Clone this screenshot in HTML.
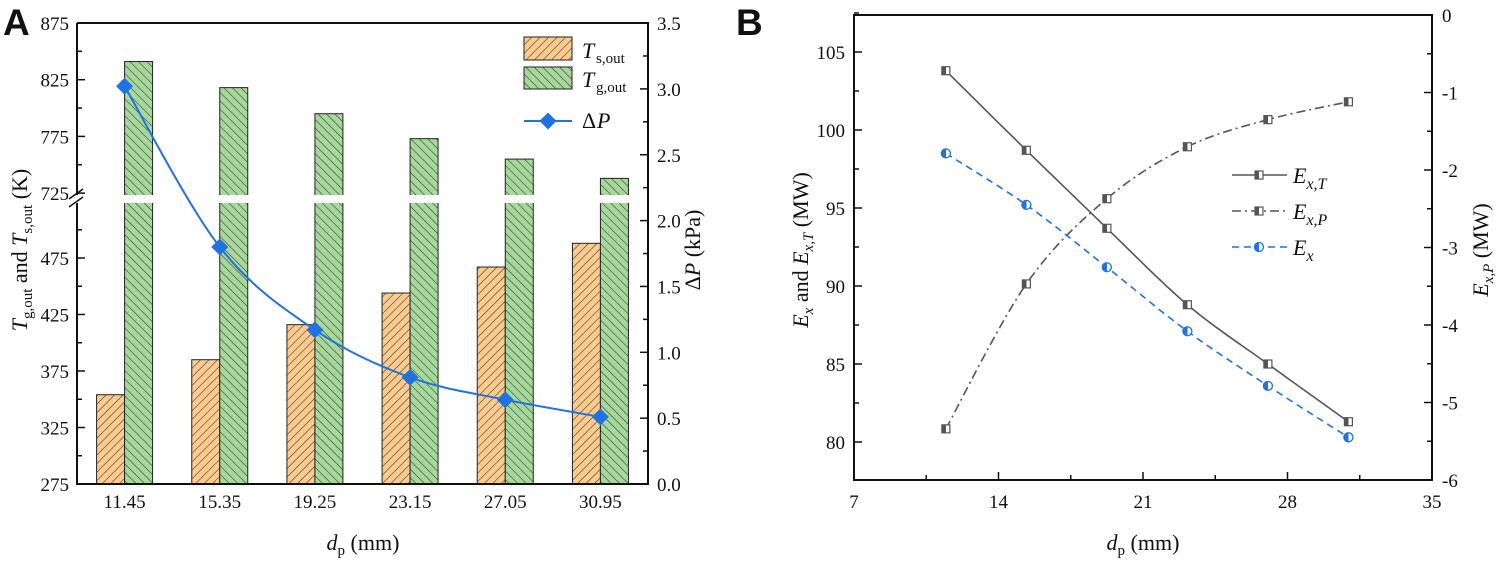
<!DOCTYPE html>
<html><head><meta charset="utf-8"><style>
body{margin:0;background:#fff;}
svg text{font-family:"Liberation Serif",serif;fill:#111;}
svg text.plab{font-family:"Liberation Sans",sans-serif;font-weight:bold;}
</style></head><body>
<svg id="svg" width="1499" height="560" viewBox="0 0 1499 560" xmlns="http://www.w3.org/2000/svg">
<defs>
<pattern id="hatchO" patternUnits="userSpaceOnUse" width="6" height="6" patternTransform="rotate(45)">
<rect width="6" height="6" fill="#fbcb8e"/><line x1="0" y1="0" x2="0" y2="6" stroke="#333" stroke-width="1.1"/></pattern>
<pattern id="hatchG" patternUnits="userSpaceOnUse" width="6" height="6" patternTransform="rotate(-45)">
<rect width="6" height="6" fill="#a7d89b"/><line x1="0" y1="0" x2="0" y2="6" stroke="#333" stroke-width="1.1"/></pattern>
<linearGradient id="halfGray" x1="0" x2="1"><stop offset="0.5" stop-color="#555"/><stop offset="0.5" stop-color="#fff"/></linearGradient>
<linearGradient id="halfBlue" x1="0" x2="1"><stop offset="0.5" stop-color="#1f72e0"/><stop offset="0.5" stop-color="#fff"/></linearGradient>
</defs>
<g id="gA"></g>
<g id="gB"></g>
</svg>
<script>
// Panel A data
const catsA = ["11.45","15.35","19.25","23.15","27.05","30.95"];
const tsOut = [354, 385, 416, 444, 467, 488];
const tgOut = [841, 818, 795, 773, 755, 738];
const dP = [3.02, 1.80, 1.17, 0.81, 0.64, 0.51];
const leftTicksUpper = [875, 825, 775, 725];
const leftTicksLower = [475, 425, 375, 325, 275];
const rightTicksA = ["0.0","0.5","1.0","1.5","2.0","2.5","3.0","3.5"];
// Panel B data
const xB = [11.45, 15.35, 19.25, 23.15, 27.05, 30.95];
const exT = [103.8, 98.7, 93.7, 88.8, 85.0, 81.3];
const exP = [-5.34, -3.47, -2.37, -1.70, -1.35, -1.12];
const ex = [98.5, 95.2, 91.2, 87.1, 83.6, 80.3];
const xTicksB = [7, 14, 21, 28, 35];
const leftTicksB = [80, 85, 90, 95, 100, 105];
const rightTicksB = [0, -1, -2, -3, -4, -5, -6];

const NS = "http://www.w3.org/2000/svg";
function mk(parent, tag, attrs, text){
  const e = document.createElementNS(NS, tag);
  for (const k in attrs) e.setAttribute(k, attrs[k]);
  if (text !== undefined) e.textContent = text;
  parent.appendChild(e); return e;
}
function spline(pts){
  let d = "M"+pts[0][0]+","+pts[0][1];
  for (let i=0;i<pts.length-1;i++){
    const p0=pts[Math.max(0,i-1)], p1=pts[i], p2=pts[i+1], p3=pts[Math.min(pts.length-1,i+2)];
    const c1=[p1[0]+(p2[0]-p0[0])/6, p1[1]+(p2[1]-p0[1])/6];
    const c2=[p2[0]-(p3[0]-p1[0])/6, p2[1]-(p3[1]-p1[1])/6];
    d += " C"+c1[0]+","+c1[1]+" "+c2[0]+","+c2[1]+" "+p2[0]+","+p2[1];
  }
  return d;
}
// ---------- Panel A ----------
const A = document.getElementById("gA");
const axL=77, axR=648, axT=23, axB=484;
const yUp = v => 23 + (875 - v) * 56.7/50;
const yLo = v => 484 - (v - 275) * 56.5/50;
const yT = v => v >= 725 ? yUp(v) : yLo(v);
const yDP = v => 484 - v * 131.7;
const band = (axR-axL)/catsA.length;
const xc = i => axL + band*(i+0.5);
const bw = 28;
mk(A,"text",{x:3,y:35,"class":"plab","font-size":"37",},"A");
catsA.forEach((c,i)=>{
  const x = xc(i);
  const o = mk(A,"rect",{x:x-bw,y:yT(tsOut[i]),width:bw,height:axB-yT(tsOut[i]),fill:"url(#hatchO)",stroke:"#222","stroke-width":1});
  
  
  const g = mk(A,"rect",{x:x,y:yT(tgOut[i]),width:bw,height:axB-yT(tgOut[i]),fill:"url(#hatchG)",stroke:"#222","stroke-width":1});
  
  
  const t = mk(A,"text",{x:x,y:508,"font-size":"19","text-anchor":"middle"},c);
  
  
});
mk(A,"rect",{x:axL+1,y:195,width:axR-axL-2,height:8,fill:"#fff"});
mk(A,"path",{d:`M${axL},${axT}H${axR}V${axB}H${axL}V203 M${axL},195V${axT}`,fill:"none",stroke:"#111","stroke-width":2});
mk(A,"path",{d:`M${axL-8},199 L${axL+6},189 M${axL-8},207 L${axL+6},197`,stroke:"#111","stroke-width":1.5});
leftTicksUpper.forEach(v=>{
  mk(A,"line",{x1:axL,x2:axL+8,y1:yUp(v),y2:yUp(v),stroke:"#111","stroke-width":1.5});
  if(v>725) mk(A,"line",{x1:axL,x2:axL+5,y1:yUp(v-25),y2:yUp(v-25),stroke:"#111","stroke-width":1.5});
  const t=mk(A,"text",{x:axL-8,y:yUp(v)+7,"font-size":"19","text-anchor":"end"},v);
  
  
});
leftTicksLower.forEach(v=>{
  mk(A,"line",{x1:axL,x2:axL+8,y1:yLo(v),y2:yLo(v),stroke:"#111","stroke-width":1.5});
  mk(A,"line",{x1:axL,x2:axL+5,y1:yLo(v+25),y2:yLo(v+25),stroke:"#111","stroke-width":1.5});
  const t=mk(A,"text",{x:axL-8,y:yLo(v)+7,"font-size":"19","text-anchor":"end"},v);
  
  
});
rightTicksA.forEach(s=>{
  const v=parseFloat(s);
  mk(A,"line",{x1:axR,x2:axR-8,y1:yDP(v),y2:yDP(v),stroke:"#111","stroke-width":1.5});
  if(v<3.5) mk(A,"line",{x1:axR,x2:axR-5,y1:yDP(v+0.25),y2:yDP(v+0.25),stroke:"#111","stroke-width":1.5});
  const t=mk(A,"text",{x:axR+9,y:yDP(v)+7,"font-size":"19"},s);
  
  
});
const ptsA = dP.map((v,i)=>[xc(i), yDP(v)]);
const lnA = mk(A,"path",{d:spline(ptsA),fill:"none",stroke:"#1f72e0","stroke-width":2});


ptsA.forEach(p=>{
  const m=mk(A,"rect",{x:p[0]-6,y:p[1]-6,width:12,height:12,fill:"#1f72e0",transform:`rotate(45 ${p[0]} ${p[1]})`});
  
  
});
const lgA = mk(A,"g",{});


mk(lgA,"rect",{x:524,y:37,width:48,height:23,fill:"url(#hatchO)",stroke:"#222"});
mk(lgA,"text",{x:582,y:58,"font-size":"22","font-style":"italic"},"T");
mk(lgA,"text",{x:596,y:63,"font-size":"15"},"s,out");
mk(lgA,"rect",{x:524,y:67,width:48,height:22,fill:"url(#hatchG)",stroke:"#222"});
mk(lgA,"text",{x:582,y:87,"font-size":"22","font-style":"italic"},"T");
mk(lgA,"text",{x:596,y:92,"font-size":"15"},"g,out");
mk(lgA,"line",{x1:524,x2:572,y1:121,y2:121,stroke:"#1f72e0","stroke-width":2});
mk(lgA,"rect",{x:542,y:115,width:12,height:12,fill:"#1f72e0",transform:"rotate(45 548 121)"});
mk(lgA,"text",{x:582,y:128,"font-size":"22"},"Δ");
mk(lgA,"text",{x:597,y:128,"font-size":"22","font-style":"italic"},"P");
const xtA = mk(A,"text",{x:363,y:550,"font-size":"22","text-anchor":"middle"});


xtA.innerHTML='<tspan font-style="italic">d</tspan><tspan font-size="15" dy="5">p</tspan><tspan dy="-5"> (mm)</tspan>';
const ytA = mk(A,"text",{x:0,y:0,"font-size":"22","text-anchor":"middle",transform:"translate(27,250) rotate(-90)"});


ytA.innerHTML='<tspan font-style="italic">T</tspan><tspan font-size="15" dy="5">g,out</tspan><tspan dy="-5"> and </tspan><tspan font-style="italic">T</tspan><tspan font-size="15" dy="5">s,out</tspan><tspan dy="-5"> (K)</tspan>';
const ytA2 = mk(A,"text",{x:0,y:0,"font-size":"22","text-anchor":"middle",transform:"translate(700,250) rotate(-90)"});


ytA2.innerHTML='Δ<tspan font-style="italic">P</tspan> (kPa)';

// ---------- Panel B ----------
const B = document.getElementById("gB");
const bL=854, bR=1432, bT=15, bB=480;
const xs = v => bL + (v-7)*(bR-bL)/28;
const yl = v => 442 - (v-80)*15.6;
const yr = v => bT + (-v)*(bB-bT)/6;
mk(B,"text",{x:736,y:35,"class":"plab","font-size":"37",},"B");
mk(B,"rect",{x:bL,y:bT,width:bR-bL,height:bB-bT,fill:"none",stroke:"#111","stroke-width":2});
xTicksB.forEach(v=>{
  mk(B,"line",{x1:xs(v),x2:xs(v),y1:bB,y2:bB-8,stroke:"#111","stroke-width":1.5});
  if(v<35) mk(B,"line",{x1:xs(v+3.5),x2:xs(v+3.5),y1:bB,y2:bB-5,stroke:"#111","stroke-width":1.5});
  const t=mk(B,"text",{x:xs(v),y:508,"font-size":"19","text-anchor":"middle"},v);
  
  
});
leftTicksB.forEach(v=>{
  mk(B,"line",{x1:bL,x2:bL+8,y1:yl(v),y2:yl(v),stroke:"#111","stroke-width":1.5});
  mk(B,"line",{x1:bL,x2:bL+5,y1:yl(v+2.5),y2:yl(v+2.5),stroke:"#111","stroke-width":1.5});
  const t=mk(B,"text",{x:bL-9,y:yl(v)+7,"font-size":"19","text-anchor":"end"},v);
  
  
});
rightTicksB.forEach(v=>{
  mk(B,"line",{x1:bR,x2:bR-8,y1:yr(v),y2:yr(v),stroke:"#111","stroke-width":1.5});
  if(v>-6) mk(B,"line",{x1:bR,x2:bR-5,y1:yr(v-0.5),y2:yr(v-0.5),stroke:"#111","stroke-width":1.5});
  const t=mk(B,"text",{x:bR+10,y:yr(v)+7,"font-size":"19"},v);
  
  
});
function series(vals, ymap, stroke, dash, name, marker){
  const pts = vals.map((v,i)=>[xs(xB[i]), ymap(v)]);
  const p = mk(B,"path",{d:spline(pts),fill:"none",stroke:stroke,"stroke-width":1.6,"stroke-dasharray":dash});
  
  
  pts.forEach(q=>{
    let m;
    if(marker==="sq") m=mk(B,"rect",{x:q[0]-4,y:q[1]-4,width:8,height:8,fill:"url(#halfGray)",stroke:"#555","stroke-width":1.2});
    else m=mk(B,"circle",{cx:q[0],cy:q[1],r:4.5,fill:"url(#halfBlue)",stroke:"#1f72e0","stroke-width":1.3});
    
    
  });
}
series(exT, yl, "#555", "none", "ex-t", "sq");
series(exP, yr, "#555", "9,4,2,4", "ex-p", "sq");
series(ex, yl, "#1f72e0", "7,5", "ex", "ci");
const lgB = mk(B,"g",{});


const rows=[[175,"#555","none","sq","T"],[211,"#555","9,4,2,4","sq","P"],[247,"#1f72e0","7,5","ci",""]];
rows.forEach(r=>{
  mk(lgB,"line",{x1:1232,x2:1287,y1:r[0],y2:r[0],stroke:r[1],"stroke-width":1.6,"stroke-dasharray":r[2]});
  if(r[3]==="sq") mk(lgB,"rect",{x:1255,y:r[0]-4,width:8,height:8,fill:"url(#halfGray)",stroke:"#555","stroke-width":1.2});
  else mk(lgB,"circle",{cx:1259,cy:r[0],r:4.5,fill:"url(#halfBlue)",stroke:"#1f72e0","stroke-width":1.3});
  const t=mk(lgB,"text",{x:1293,y:r[0]+8,"font-size":"22","font-style":"italic"});
  t.innerHTML='E<tspan font-size="16" dy="6">x'+(r[4]?','+r[4]:'')+'</tspan>';
});
const xtB = mk(B,"text",{x:1143,y:550,"font-size":"22","text-anchor":"middle"});


xtB.innerHTML='<tspan font-style="italic">d</tspan><tspan font-size="15" dy="5">p</tspan><tspan dy="-5"> (mm)</tspan>';
const ytB = mk(B,"text",{x:0,y:0,"font-size":"22","text-anchor":"middle",transform:"translate(808,250) rotate(-90)"});


ytB.innerHTML='<tspan font-style="italic">E</tspan><tspan font-style="italic" font-size="15" dy="5">x</tspan><tspan dy="-5"> and </tspan><tspan font-style="italic">E</tspan><tspan font-style="italic" font-size="15" dy="5">x,T</tspan><tspan dy="-5"> (MW)</tspan>';
const ytB2 = mk(B,"text",{x:0,y:0,"font-size":"22","text-anchor":"middle",transform:"translate(1488,250) rotate(-90)"});


ytB2.innerHTML='<tspan font-style="italic">E</tspan><tspan font-style="italic" font-size="15" dy="5">x,P</tspan><tspan dy="-5"> (MW)</tspan>';
</script>
</body></html>
